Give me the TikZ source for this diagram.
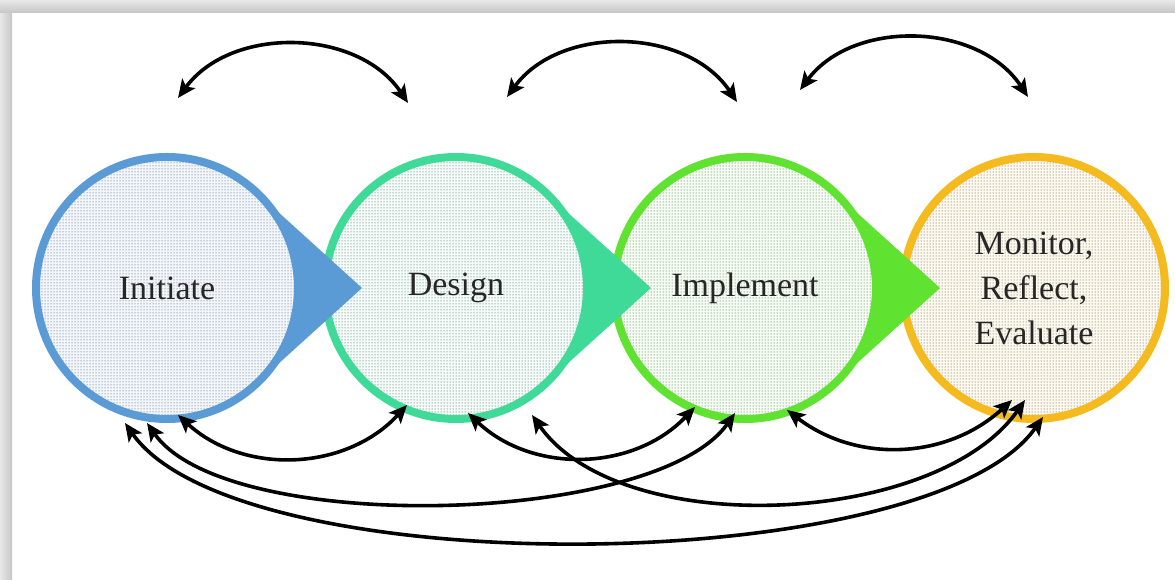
\documentclass[tikz,border=0pt]{standalone}
\usepackage{fontspec}
\setmainfont{Liberation Serif}
\usetikzlibrary{arrows.meta,calc,patterns,positioning}

\definecolor{initBlue}{RGB}{91,155,213}
\definecolor{designGreen}{RGB}{64,218,152}
\definecolor{implGreen}{RGB}{96,226,48}
\definecolor{monitGold}{RGB}{244,186,30}

\begin{document}
\begin{tikzpicture}[x=1pt, y=1pt,
    stage/.style={circle, minimum size=262pt, inner sep=0pt, line width=8pt, align=center,
        font=\fontsize{34}{45}\selectfont, text=black!85, pattern=dots, pattern color=black!70},
    link/.style={{Stealth[length=18pt,width=16pt,inset=4pt]}-{Stealth[length=18pt,width=16pt,inset=4pt]}, line width=3.6pt}]

    \useasboundingbox (0,0) rectangle (1175,580);

    % Frame shadow on the left and top
    \shade[left color=gray!18, right color=gray!45] (0,0) rectangle (12,580);
    \shade[top color=gray!18, bottom color=gray!45] (0,567) rectangle (1175,580);

    % Setup
    \def\tip{195}    % Pointer length from circle centre
    \coordinate (cInit) at (167,292);
    \coordinate (cDesign) at (456,292);
    \coordinate (cImpl) at (745,292);
    \coordinate (cMonit) at (1034,292);

    % Stages, right to left so that each pointer lies over the next circle
    \node[stage, draw=monitGold, preaction={fill=monitGold!8}] (monit) at (cMonit) {Monitor,\\Reflect,\\Evaluate};

    \fill[implGreen] ($(cImpl)+(88,97)$) -- ($(cImpl)+(\tip,0)$) -- ($(cImpl)+(88,-97)$) -- cycle;
    \node[stage, draw=implGreen, preaction={fill=implGreen!7}] (impl) at (cImpl) {Implement};

    \fill[designGreen] ($(cDesign)+(88,97)$) -- ($(cDesign)+(\tip,0)$) -- ($(cDesign)+(88,-97)$) -- cycle;
    \node[stage, draw=designGreen, preaction={fill=designGreen!7}] (design) at (cDesign) {Design};

    \fill[initBlue] ($(cInit)+(88,97)$) -- ($(cInit)+(\tip,0)$) -- ($(cInit)+(88,-97)$) -- cycle;
    \node[stage, draw=initBlue, preaction={fill=initBlue!9}] (init) at (cInit) {Initiate};

    % Feedback arcs above the stages
    \coordinate (initTop) at ($(init.center)+(11,190)$);
    \coordinate (designTopL) at ($(design.center)+(-48,185)$);
    \coordinate (designTopR) at ($(design.center)+(51,191)$);
    \coordinate (implTopL) at ($(impl.center)+(-8,186)$);
    \coordinate (implTopR) at ($(impl.center)+(55,198)$);
    \coordinate (monitTop) at ($(monit.center)+(-6,191)$);

    \draw[link] (initTop) to[bend left=55] (designTopL);
    \draw[link] (designTopR) to[bend left=55] (implTopL);
    \draw[link] (implTopR) to[bend left=55] (monitTop);

    % Links below the stages
    \coordinate (initA) at ($(init.center)+(-42,-135)$);
    \coordinate (initB) at ($(init.center)+(-20,-135)$);
    \coordinate (initC) at ($(init.center)+(11,-127)$);
    \coordinate (designA) at ($(design.center)+(-49,-117)$);
    \coordinate (designB) at ($(design.center)+(12,-125)$);
    \coordinate (designC) at ($(design.center)+(76,-127)$);
    \coordinate (implA) at ($(impl.center)+(-50,-119)$);
    \coordinate (implB) at ($(impl.center)+(-10,-125)$);
    \coordinate (implC) at ($(impl.center)+(42,-122)$);
    \coordinate (monitA) at ($(monit.center)+(-22,-112)$);
    \coordinate (monitB) at ($(monit.center)+(-9,-112)$);
    \coordinate (monitC) at ($(monit.center)+(9,-129)$);

    \draw[link] (initC) to[bend right=45] (designA);
    \draw[link] (designB) to[bend right=45] (implA);
    \draw[link] (implC) to[bend right=40] (monitA);
    \draw[link] (initB) to[out=-55, in=235, looseness=0.6] (implB);
    \draw[link] (designC) to[out=-55, in=235, looseness=0.8] (monitB);
    \draw[link] (initA) to[out=-55, in=235, looseness=0.55] (monitC);

\end{tikzpicture}
\end{document}
